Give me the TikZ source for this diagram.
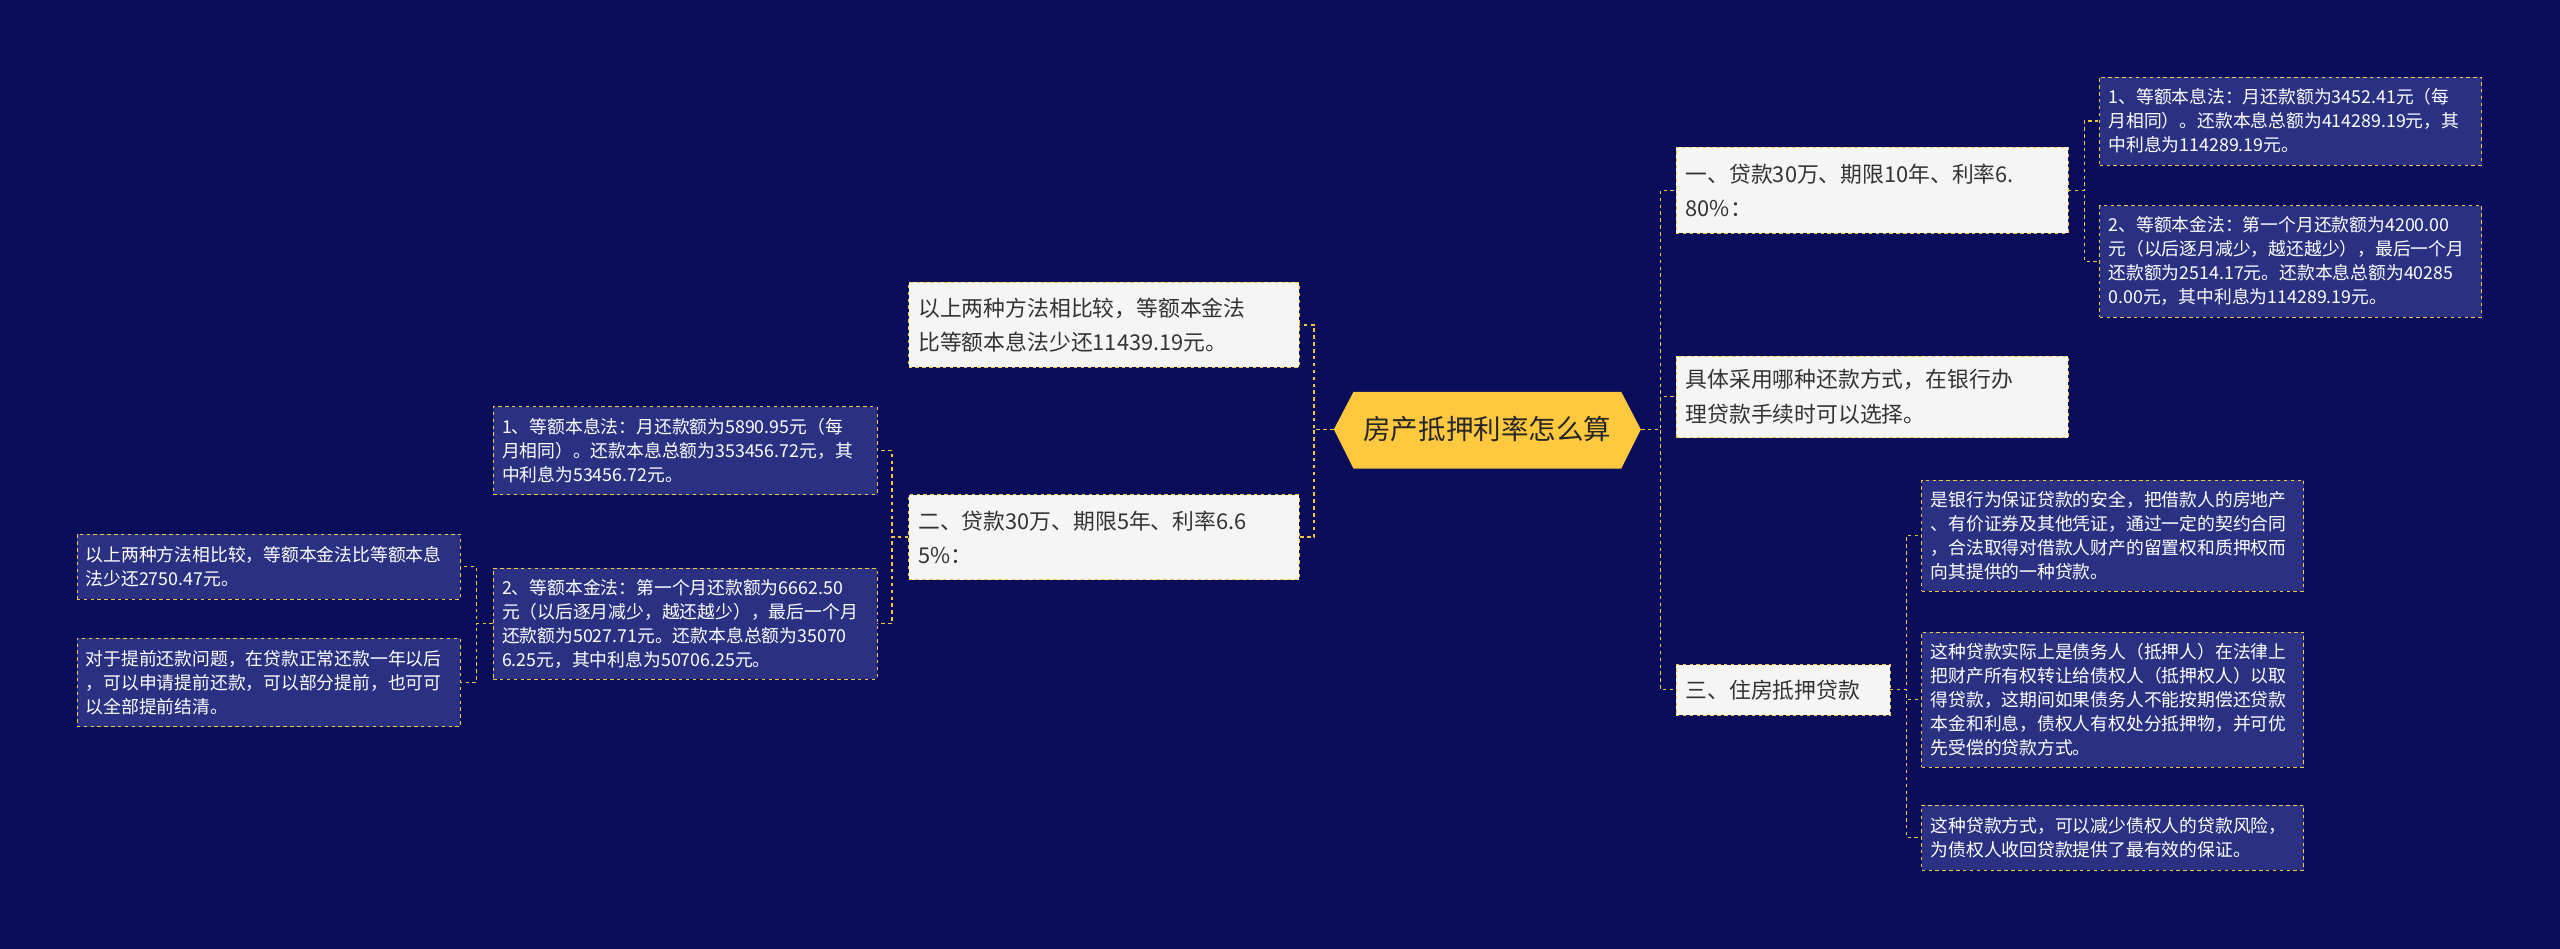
\documentclass[tikz,border=0pt]{standalone}
\usepackage{fontspec}
\setmainfont{Noto Sans CJK SC}
\usetikzlibrary{shapes.misc}
\definecolor{bg}{HTML}{0A0E5A}
\definecolor{dk}{HTML}{2A3182}
\definecolor{yl}{HTML}{F5C542}
\definecolor{hx}{HTML}{FFC93F}
\definecolor{lt}{HTML}{F5F5F5}
\tikzset{
 lite/.style={draw=yl,dashed,fill=lt,text=black!80,font=\fontsize{19pt}{30pt}\selectfont,align=left,inner sep=3mm},
 dark/.style={draw=yl,dashed,fill=dk,text=white,font=\fontsize{15.5pt}{21pt}\selectfont,align=left,inner sep=2.5mm},
 conn/.style={draw=yl,dashed,line width=1.2pt}
}
\newcommand\bx[7]{\node[#6,minimum width={(#4-#2)*0.5mm},minimum height={(#5-#3)*0.5mm},text width={(#4-#2)*0.5mm-5.5mm}] (#1) at ({(#2+#4)/2},{(#3+#5)/2}) {#7};}
\begin{document}
\begin{tikzpicture}[x=0.5mm,y=-0.5mm]
\fill[bg] (0,0) rectangle (1568,581);
\useasboundingbox (0,0) rectangle (1568,581);
% center
\fill[hx] (817,263) -- (829,240) -- (993,240) -- (1005,263) -- (993,287) -- (829,287) -- cycle;
\node[minimum width=94mm,minimum height=23.5mm,font=\fontsize{24pt}{28pt}\selectfont,text=black!85] (c) at (911,263) {房产抵押利率怎么算};
% right level 1
\bx{r1}{1027}{90}{1266}{143}{lite}{一、贷款30万、期限10年、利率6.\\80\%：}
\bx{r2}{1027}{218}{1266}{268}{lite}{具体采用哪种还款方式，在银行办\\理贷款手续时可以选择。}
\bx{r3}{1027}{407}{1157}{438}{lite}{三、住房抵押贷款}
% right level 2
\bx{r11}{1286}{47}{1520}{101}{dark}{1、等额本息法：月还款额为3452.41元（每\\月相同）。还款本息总额为414289.19元，其\\中利息为114289.19元。}
\bx{r12}{1286}{126}{1520}{194}{dark}{2、等额本金法：第一个月还款额为4200.00\\元（以后逐月减少，越还越少），最后一个月\\还款额为2514.17元。还款本息总额为40285\\0.00元，其中利息为114289.19元。}
\bx{r31}{1177}{294}{1411}{362}{dark}{是银行为保证贷款的安全，把借款人的房地产\\、有价证券及其他凭证，通过一定的契约合同\\，合法取得对借款人财产的留置权和质押权而\\向其提供的一种贷款。}
\bx{r32}{1177}{387}{1411}{470}{dark}{这种贷款实际上是债务人（抵押人）在法律上\\把财产所有权转让给债权人（抵押权人）以取\\得贷款，这期间如果债务人不能按期偿还贷款\\本金和利息，债权人有权处分抵押物，并可优\\先受偿的贷款方式。}
\bx{r33}{1177}{493}{1411}{533}{dark}{这种贷款方式，可以减少债权人的贷款风险，\\为债权人收回贷款提供了最有效的保证。}
% left level 1
\bx{l1}{557}{173}{795}{225}{lite}{以上两种方法相比较，等额本金法\\比等额本息法少还11439.19元。}
\bx{l2}{557}{303}{795}{355}{lite}{二、贷款30万、期限5年、利率6.6\\5\%：}
% left level 2
\bx{l21}{302}{249}{537}{303}{dark}{1、等额本息法：月还款额为5890.95元（每\\月相同）。还款本息总额为353456.72元，其\\中利息为53456.72元。}
\bx{l22}{302}{348}{537}{416}{dark}{2、等额本金法：第一个月还款额为6662.50\\元（以后逐月减少，越还越少），最后一个月\\还款额为5027.71元。还款本息总额为35070\\6.25元，其中利息为50706.25元。}
% left level 3
\bx{l221}{47}{327}{282}{367}{dark}{以上两种方法相比较，等额本金法比等额本息\\法少还2750.47元。}
\bx{l222}{47}{391}{282}{445}{dark}{对于提前还款问题，在贷款正常还款一年以后\\，可以申请提前还款，可以部分提前，也可可\\以全部提前结清。}
% connectors
\foreach \t in {r1,r2,r3} \draw[conn] (c.east) -- ++(12,0) |- (\t.west);
\foreach \t in {r11,r12} \draw[conn] (r1.east) -- ++(10,0) |- (\t.west);
\foreach \t in {r31,r32,r33} \draw[conn] (r3.east) -- ++(10,0) |- (\t.west);
\foreach \t in {l1,l2} \draw[conn] (c.west) -- ++(-12,0) |- (\t.east);
\foreach \t in {l21,l22} \draw[conn] (l2.west) -- ++(-10,0) |- (\t.east);
\foreach \t in {l221,l222} \draw[conn] (l22.west) -- ++(-10,0) |- (\t.east);
\end{tikzpicture}
\end{document}
